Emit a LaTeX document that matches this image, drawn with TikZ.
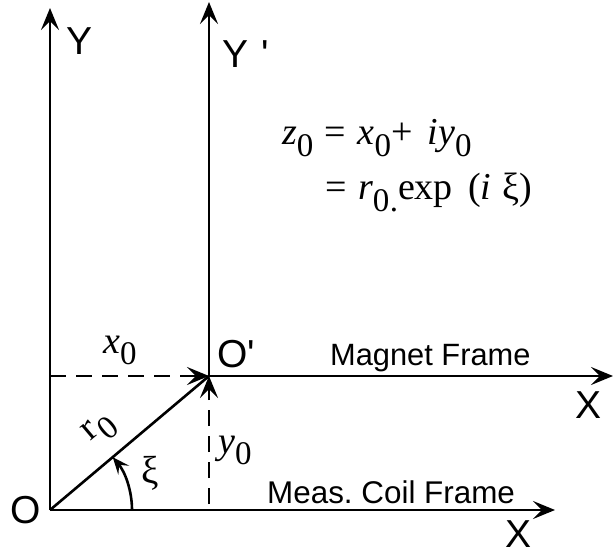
\documentclass[tikz,border=0pt]{standalone}
\usepackage{fontspec}
\setmainfont{Liberation Serif}
\setsansfont{Liberation Sans}[Ligatures=TeXOff]
\usetikzlibrary{arrows.meta}
\newcommand\lo[1]{\raisebox{-0.3em}{\fontsize{33bp}{36bp}\selectfont\upshape #1}}
\newcommand\prm{'}
\frenchspacing
\tikzset{
  big/.style={-{Stealth[length=22bp,width=18bp,inset=9bp]}},
  axisline/.style={line width=2.6bp, big},
  dashline/.style={line width=2.6bp, dash pattern=on 16bp off 10bp, big},
  vecline/.style={line width=2.6bp},
  arcline/.style={line width=2.6bp, -{Stealth[length=17bp,width=14bp,inset=7bp]}},
  axlabel/.style={font=\sffamily\fontsize{39bp}{44bp}\selectfont, inner sep=0pt},
  framelabel/.style={font=\sffamily\fontsize{30.8bp}{36bp}\selectfont, inner sep=0pt},
  mathlabel/.style={font=\rmfamily\fontsize{38bp}{42bp}\selectfont, inner sep=0pt},
}
\begin{document}
\begin{tikzpicture}[x=1bp,y=-1bp]
\path[use as bounding box] (0,0) rectangle (614,554);
\clip (0,0) rectangle (614,554);
% points
\coordinate (O) at (50,510);
\coordinate (Op) at (209,376);
\coordinate (Ytip) at (50,8);
\coordinate (Xtip) at (555,510);
\coordinate (Yptip) at (209,2);
\coordinate (Xptip) at (613,376);
\coordinate (Dx) at (50,376);
\coordinate (Dy) at (209,504);
\coordinate (A) at (132,510);
% axes
\draw[axisline] (O) -- (Ytip);
\draw[axisline] (O) -- (Xtip);
\draw[axisline] (Op) -- (Yptip);
\draw[axisline] (Op) -- (Xptip);
% dashed components
\draw[dashline] (Dx) -- (Op);
\draw[dashline] (Dy) -- (Op);
% vector r0
\draw[vecline] (O) -- (Op);
% angle arc
\draw[arcline] (A) arc[start angle=0, end angle=-40.1, radius=82];
% axis labels
\node[axlabel] (lY) at (80,41) {Y};
\node[axlabel, anchor=base west] (lYp) at (222,68) {Y\,\,\prm};
\node[axlabel] (lO) at (26,510) {O};
\node[axlabel, anchor=base west] (lOp) at (217,367) {O\prm};
\node[axlabel, anchor=base west] (lXp) at (575,418) {X\,\,\prm};
\node[axlabel, anchor=base west] (lX) at (505,547) {X};
% frame labels
\node[framelabel, anchor=base west] (mag) at (330,365) {Magnet Frame};
\node[framelabel, anchor=base west, font=\sffamily\fontsize{31.4bp}{36bp}\selectfont] (meas) at (267,503) {Meas. Coil Frame};
% math labels
\node[mathlabel, anchor=base west] (x0) at (103,353) {\itshape x\lo{0}};
\node[mathlabel, anchor=base west] (y0) at (218,453) {\itshape y\lo{0}};
\node[mathlabel, font=\rmfamily\fontsize{39bp}{42bp}\selectfont] (xi) at (150,473) {ξ};
\node[mathlabel, rotate=40.1, anchor=base west] (r0) at (90,442) {r\hspace{0.05em}\lo{0}};
% formula
\node[mathlabel, anchor=base west] (eq1) at (282,145)
  {\itshape z\lo{0}\hspace{0.3em}\upshape=\hspace{0.3em}\itshape x\lo{0}\upshape+\hspace{0.4em}\itshape iy\lo{0}};
\node[mathlabel, anchor=base west] (eq2) at (325,200)
  {=\hspace{0.3em}\itshape r\lo{0\kern0.5pt.}\upshape exp\hspace{0.4em}(\itshape i\hspace{0.3em}\upshape ξ)};
\end{tikzpicture}
\end{document}
